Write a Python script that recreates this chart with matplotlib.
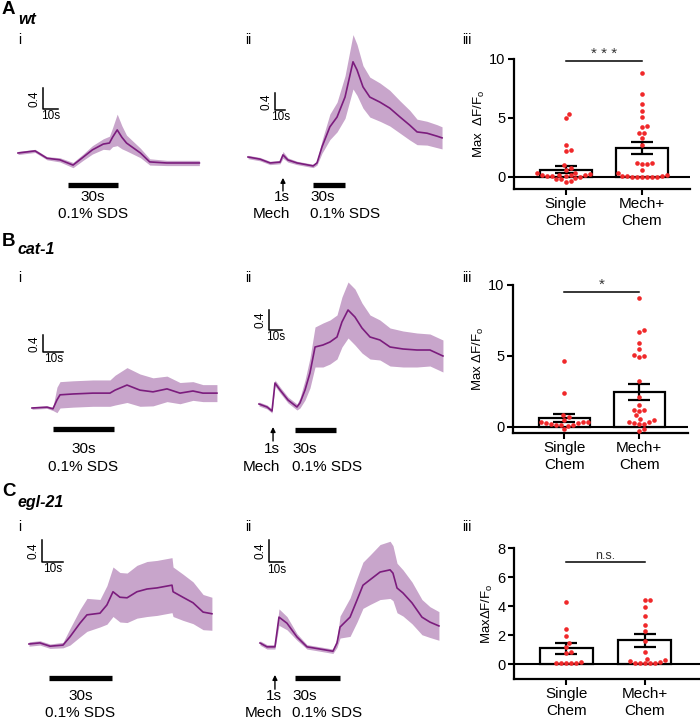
import numpy as np
import matplotlib
matplotlib.use('Agg')
import matplotlib.pyplot as plt

W, H = 700, 724
plt.rcParams['font.family'] = ['Liberation Sans', 'DejaVu Sans']
plt.rcParams['mathtext.default'] = 'regular'

LINE = '#7b1c7d'
BAND = '#c8a5cb'
RED = '#f0282a'

# --- calcium traces: time (s), mean dF/F, SEM ---
wt_chem_t = [0, 11, 18.7, 27, 35.5, 42, 48, 55, 59, 61, 64, 67, 70, 79, 85, 96, 106, 117]
wt_chem_mean = [0, 0.04, -0.1, -0.13, -0.23, -0.08, 0.06, 0.17, 0.19, 0.30, 0.44, 0.30, 0.19, 0, -0.17, -0.19, -0.19, -0.19]
wt_chem_sem = [0.03, 0.03, 0.03, 0.04, 0.05, 0.06, 0.08, 0.1, 0.13, 0.18, 0.3, 0.22, 0.15, 0.09, 0.06, 0.05, 0.05, 0.05]

wt_mech_t = [0, 11.4, 21, 30.5, 33.3, 38, 46.7, 62, 65.7, 70.5, 78, 84.8, 92.4, 100, 103.8, 109.5, 116,
             125.7, 135, 144.8, 154, 161, 170.5, 180, 184.8]
wt_mech_mean = [0, -0.05, -0.14, -0.12, 0.05, -0.07, -0.14, -0.21, -0.14, 0.24, 0.71, 0.94, 1.41, 2.24, 2.05,
                1.65, 1.41, 1.29, 1.15, 0.94, 0.75, 0.59, 0.56, 0.49, 0.45]
wt_mech_sem = [0.04, 0.04, 0.04, 0.04, 0.08, 0.05, 0.04, 0.04, 0.05, 0.15, 0.3, 0.35, 0.5, 0.64, 0.6, 0.5,
               0.47, 0.45, 0.42, 0.38, 0.35, 0.3, 0.28, 0.27, 0.26]

cat1_chem_t = [0, 7.4, 10.3, 12.3, 13.8, 20.2, 30, 38.4, 40.9, 46.8, 53.2, 59.6, 66.5, 72.9, 79.3, 84.2, 91.1]
cat1_chem_mean = [0, 0.02, -0.02, 0.19, 0.31, 0.33, 0.35, 0.35, 0.42, 0.54, 0.42, 0.38, 0.45, 0.35, 0.4, 0.35, 0.35]
cat1_chem_sem = [0.03, 0.03, 0.04, 0.3, 0.31, 0.31, 0.31, 0.31, 0.35, 0.41, 0.38, 0.33, 0.3, 0.25, 0.22, 0.2, 0.2]

cat1_mech_t = [0, 6.2, 10, 12.3, 16.2, 22.3, 29.2, 31.5, 35.4, 39.2, 43.1, 49.2, 54.6, 60, 63.8, 68.5, 73.8,
               79.2, 85.4, 93, 100.8, 110.8, 121.5, 131.5, 141.5]
cat1_mech_mean = [0, -0.06, -0.14, 0.42, 0.28, 0.08, -0.06, 0.02, 0.28, 0.62, 1.14, 1.18, 1.24, 1.34, 1.64,
                  1.88, 1.74, 1.52, 1.34, 1.28, 1.14, 1.1, 1.08, 1.08, 0.96]
cat1_mech_sem = [0.04, 0.04, 0.04, 0.06, 0.06, 0.06, 0.06, 0.1, 0.2, 0.3, 0.4, 0.44, 0.44, 0.44, 0.5, 0.56,
                 0.56, 0.5, 0.44, 0.4, 0.38, 0.36, 0.34, 0.32, 0.32]

egl21_chem_t = [0, 5.2, 10, 16.2, 19.5, 24.3, 27.6, 33.8, 37.1, 40, 43.3, 46.7, 51.4, 56.2, 61, 63.8, 68.1,
                68.6, 73.3, 78.1, 82.9, 87.1]
egl21_chem_mean = [0, 0.02, -0.04, -0.02, 0.13, 0.38, 0.53, 0.56, 0.71, 0.95, 0.85, 0.84, 0.95, 1.0, 1.02,
                   1.04, 1.07, 0.95, 0.85, 0.75, 0.58, 0.55]
egl21_chem_sem = [0.04, 0.04, 0.04, 0.05, 0.15, 0.25, 0.3, 0.25, 0.35, 0.45, 0.45, 0.45, 0.48, 0.5, 0.5,
                  0.5, 0.5, 0.45, 0.42, 0.38, 0.32, 0.3]

egl21_mech_t = [0, 4.8, 10.3, 13.1, 18.6, 25.5, 32.4, 41.4, 50.3, 53.1, 55.2, 62.1, 66.9, 71, 75.9, 82.8,
                89.7, 91.7, 94.5, 98.6, 104.8, 111.7, 117.2, 123.4]
egl21_mech_mean = [0, -0.07, -0.07, 0.47, 0.36, 0.11, -0.07, -0.11, -0.15, 0, 0.29, 0.47, 0.78, 1.05, 1.15,
                   1.29, 1.33, 1.27, 1.0, 0.91, 0.73, 0.47, 0.38, 0.31]
egl21_mech_sem = [0.04, 0.04, 0.04, 0.15, 0.12, 0.06, 0.04, 0.04, 0.04, 0.08, 0.2, 0.35, 0.4, 0.42, 0.45,
                  0.5, 0.52, 0.5, 0.45, 0.42, 0.38, 0.32, 0.28, 0.26]

# stimulus timing (s)
wt_chem_sds = (32, 64.5)
wt_mech_sds = (62, 92.4)
wt_mech_touch = 33.3
cat1_chem_sds = (10.3, 40.4)
cat1_mech_sds = (27.7, 59.2)
cat1_mech_touch = 10.8
egl21_chem_sds = (9.5, 39.5)
egl21_mech_sds = (24, 55)
egl21_mech_touch = 10.3

SCALE_T = 10
SCALE_V = 0.4

# --- max dF/F per animal ---
groups = ['Single\nChem', 'Mech+\nChem']
wt_single = [5.35, 5.0, 2.75, 2.3, 2.2, 1.0, 0.75, 0.6, 0.35, 0.3, 0.25, 0.2, 0.2, 0.15, 0.15, 0.1, 0.1,
             0.05, 0.0, -0.1, -0.15, -0.2, -0.3, -0.4]
wt_mech = [8.8, 7.0, 6.2, 5.6, 5.1, 4.3, 4.2, 3.75, 3.7, 3.3, 2.7, 1.2, 1.15, 1.1, 1.1, 0.6, 0.3, 0.2,
           0.1, 0.05, 0.05, 0.0, 0.0, 0.0, 0.0, 0.0, 0.0]
wt_bar_mean = [0.6, 2.45]
wt_bar_sem = [0.3, 0.5]

cat1_single = [4.6, 2.4, 0.85, 0.7, 0.5, 0.3, 0.3, 0.3, 0.25, 0.25, 0.2, 0.15, 0.1, 0.1, 0.05, -0.2]
cat1_mech = [9.1, 6.85, 6.7, 5.9, 5.5, 5.05, 5.0, 4.9, 3.2, 2.1, 1.5, 1.2, 1.15, 1.1, 0.8, 0.55, 0.5,
             0.3, 0.3, 0.25, 0.2, 0.2, -0.2, -0.3]
cat1_bar_mean = [0.63, 2.47]
cat1_bar_sem = [0.28, 0.57]

egl21_single = [4.25, 2.4, 1.95, 1.45, 1.15, 0.8, 0.75, 0.15, 0.1, 0.1, 0.05, 0.05, 0.05]
egl21_mech = [4.45, 4.45, 3.9, 3.3, 2.7, 2.25, 1.6, 0.8, 0.35, 0.3, 0.2, 0.15, 0.1, 0.1, 0.05, 0.05, 0.05]
egl21_bar_mean = [1.1, 1.65]
egl21_bar_sem = [0.38, 0.45]

fig = plt.figure(figsize=(W / 100, H / 100), dpi=100)


def px_axes(left, top, width, height):
    return fig.add_axes([left / W, 1 - (top + height) / H, width / W, height / H])


def ftext(x, y, s, **kw):
    kw.setdefault('va', 'center')
    fig.text(x / W, 1 - y / H, s, **kw)


def trace_panel(lay, t, mean, sem, sds, touch=None):
    x0, y0, sx, sy = lay['origin']
    ax = px_axes(x0 - 40, y0 - 140, 240, 190)
    ax.set_xlim(-40 / sx, 200 / sx)
    ax.set_ylim(-50 / sy, 140 / sy)
    ax.axis('off')
    t, mean, sem = np.asarray(t), np.asarray(mean), np.asarray(sem)
    ax.fill_between(t, mean - sem, mean + sem, color=BAND, lw=0, clip_on=False)
    ax.plot(t, mean, color=LINE, lw=1.2, clip_on=False)

    bv = lay['bar_v']
    ax.plot(sds, [bv, bv], color='k', lw=3.8, solid_capstyle='butt', clip_on=False)

    cx, cy = lay['scale']
    ax.plot([cx, cx, cx + SCALE_T], [cy + SCALE_V, cy, cy], color='k', lw=1.1, clip_on=False)
    ax.annotate('0.4', (cx, cy + SCALE_V / 2), xytext=(-1.5, 0), textcoords='offset points',
                rotation=90, ha='right', va='center', fontsize=8.5)
    ax.annotate('10s', (cx + SCALE_T / 2, cy), xytext=(0, -1), textcoords='offset points',
                ha='center', va='top', fontsize=8.5)

    y1, y2 = lay['text_y']
    fs = 11
    if touch is None:
        mid = (sds[0] + sds[1]) / 2
        for s, yy in (('30s', y1), ('0.1% SDS', y2)):
            ax.annotate(s, (mid, H - yy), xycoords=('data', 'figure pixels'),
                        ha='center', va='center', fontsize=fs)
    else:
        a0, a1 = lay['arrow_v']
        ax.annotate('', xy=(touch, a1), xytext=(touch, a0),
                    arrowprops=dict(arrowstyle='-|>', color='k', lw=1.0, mutation_scale=7,
                                    shrinkA=0, shrinkB=0))
        for s, yy in (('30s', y1), ('0.1% SDS', y2)):
            ax.annotate(s, (sds[0], H - yy), xycoords=('data', 'figure pixels'),
                        xytext=(-2, 0), textcoords='offset points',
                        ha='left', va='center', fontsize=fs)
        for s, yy in (('1s', y1), ('Mech', y2)):
            ax.annotate(s, (touch, H - yy), xycoords=('data', 'figure pixels'),
                        xytext=(5, 0), textcoords='offset points',
                        ha='right', va='center', fontsize=fs)


def swarm_offsets(vals, ypx, d=5.0):
    ys = np.asarray(vals, dtype=float) * ypx
    cands = sorted(np.arange(-40, 40.01, 0.5), key=lambda c: (abs(c), -c))
    placed, offs = [], np.zeros(len(ys))
    for i in np.argsort(ys):
        for c in cands:
            if all((c - px) ** 2 + (ys[i] - py) ** 2 >= d * d for px, py in placed):
                break
        offs[i] = c
        placed.append((c, ys[i]))
    return offs


def bar_panel(box, xlim, ylim, yticks, means, sems, pts, sig, sig_y, sig_size, ylabel):
    ax = px_axes(*box)
    ax.set_xlim(xlim)
    ax.set_ylim(ylim)
    ax.axhline(0, color='k', lw=1.5, zorder=1)
    ax.bar([0, 1], means, width=0.68, color='white', edgecolor='k', lw=1.6, zorder=2)
    ax.errorbar([0, 1], means, yerr=sems, fmt='none', ecolor='k', elinewidth=1.6,
                capsize=8, capthick=1.6, zorder=3)
    xppu = box[2] / (xlim[1] - xlim[0])
    yppu = box[3] / (ylim[1] - ylim[0])
    for i, p in enumerate(pts):
        offs = swarm_offsets(p, yppu) / xppu
        ax.scatter(i + offs, p, s=11, color=RED, lw=0, zorder=4, clip_on=False)
    ax.plot([0, 1], [sig_y, sig_y], color='k', lw=1.1)
    ax.text(0.5, sig_y, sig, ha='center', va='bottom', fontsize=sig_size, color='#333333')
    for side in ('top', 'right'):
        ax.spines[side].set_visible(False)
    for side in ('left', 'bottom'):
        ax.spines[side].set_linewidth(1.6)
    ax.set_yticks(yticks)
    ax.set_xticks([0, 1])
    ax.set_xticklabels(groups, fontsize=11)
    ax.tick_params(length=4, width=1.5, labelsize=10.5, pad=2)
    ax.tick_params(axis='x', labelsize=11)
    ax.set_ylabel(ylabel, fontsize=9.5, labelpad=2)


# --- layout (pixels) ---
lay = {
    'wt_chem': dict(origin=(18, 153, 1.55, 52.5), bar_v=-0.61, scale=(16, 0.84), text_y=(197, 214)),
    'wt_mech': dict(origin=(248, 157, 1.05, 42.5), bar_v=-0.66, scale=(25.7, 1.11), text_y=(197, 214),
                    arrow_v=(-0.8, -0.49)),
    'cat1_chem': dict(origin=(32, 408, 2.03, 42.5), bar_v=-0.49, scale=(5.4, 1.32), text_y=(449, 467)),
    'cat1_mech': dict(origin=(259, 404, 1.3, 50), bar_v=-0.52, scale=(7.7, 1.48), text_y=(449, 467),
                      arrow_v=(-0.74, -0.46)),
    'egl21_chem': dict(origin=(29, 644, 2.1, 55), bar_v=-0.62, scale=(6.2, 1.49), text_y=(696, 713)),
    'egl21_mech': dict(origin=(260, 643, 1.45, 55), bar_v=-0.64, scale=(6.2, 1.47), text_y=(696, 713),
                       arrow_v=(-0.84, -0.58)),
}

trace_panel(lay['wt_chem'], wt_chem_t, wt_chem_mean, wt_chem_sem, wt_chem_sds)
trace_panel(lay['wt_mech'], wt_mech_t, wt_mech_mean, wt_mech_sem, wt_mech_sds, wt_mech_touch)
trace_panel(lay['cat1_chem'], cat1_chem_t, cat1_chem_mean, cat1_chem_sem, cat1_chem_sds)
trace_panel(lay['cat1_mech'], cat1_mech_t, cat1_mech_mean, cat1_mech_sem, cat1_mech_sds, cat1_mech_touch)
trace_panel(lay['egl21_chem'], egl21_chem_t, egl21_chem_mean, egl21_chem_sem, egl21_chem_sds)
trace_panel(lay['egl21_mech'], egl21_mech_t, egl21_mech_mean, egl21_mech_sem, egl21_mech_sds, egl21_mech_touch)

bar_panel((514, 59, 176, 130), (-0.68, 1.63), (-1.02, 10), [0, 5, 10], wt_bar_mean, wt_bar_sem,
          [wt_single, wt_mech], '* * *', 9.83, 11, 'Max  ΔF/F$_o$')
bar_panel((513, 285, 175, 148), (-0.68, 1.65), (-0.45, 10), [0, 5, 10], cat1_bar_mean, cat1_bar_sem,
          [cat1_single, cat1_mech], '*', 9.5, 11, 'Max ΔF/F$_o$')
bar_panel((514, 548, 186, 131), (-0.67, 1.71), (-1.03, 8), [0, 2, 4, 6, 8], egl21_bar_mean, egl21_bar_sem,
          [egl21_single, egl21_mech], 'n.s.', 7.05, 9, 'MaxΔF/F$_o$')

# panel letters and genotype labels
for letter, gene, ly, gy, sy in (('A', 'wt', 10, 19, 40), ('B', 'cat-1', 241, 250, 278),
                                 ('C', 'egl-21', 491, 502, 527)):
    ftext(2, ly, letter, fontsize=13.5, fontweight='bold')
    ftext(18, gy, gene, fontsize=11.5, fontweight='bold', style='italic')
    ftext(18, sy, 'i', fontsize=10)
    ftext(245, sy, 'ii', fontsize=10)
    ftext(462, sy, 'iii', fontsize=10)

fig.savefig('out.png', dpi=100)
